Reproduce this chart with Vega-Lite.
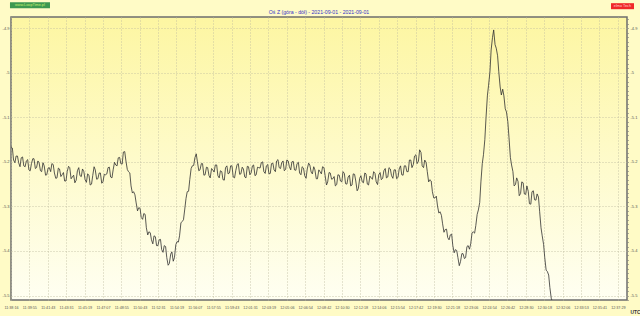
{
  "$schema": "https://vega.github.io/schema/vega-lite/v6.json",
  "width": 616,
  "height": 283,
  "autosize": "none",
  "padding": {"left": 11, "top": 17, "right": 13, "bottom": 16},
  "background": "#fffbc6",
  "title": {"text": "Oś Z (góra - dół) - 2021-09-01 - 2021-09-01", "color": "#3535c8", "fontSize": 5.2, "fontWeight": "normal", "font": "Liberation Sans", "offset": 3, "dy": 16, "anchor": "middle", "frame": "group"},
  "config": {
    "view": {"stroke": "#6e6e6e", "strokeWidth": 1.5, "fill": {"gradient": "linear", "x1": 0, "y1": 0, "x2": 0, "y2": 1, "stops": [{"offset": 0, "color": "#fdf6a2"}, {"offset": 1, "color": "#fffff2"}]}},
    "axis": {"labelFont": "Liberation Sans", "labelFontSize": 4, "labelColor": "#555555", "titleFont": "Liberation Sans"}
  },
  "data": {"values": [
    {"s":0,"v":-5.166},{"s":15,"v":-5.196},{"s":30,"v":-5.187},{"s":45,"v":-5.202},{"s":60,"v":-5.191},{"s":75,"v":-5.209},{"s":90,"v":-5.198},{"s":105,"v":-5.218},{"s":120,"v":-5.204},{"s":135,"v":-5.193},
    {"s":150,"v":-5.213},{"s":165,"v":-5.202},{"s":180,"v":-5.222},{"s":195,"v":-5.209},{"s":210,"v":-5.229},{"s":225,"v":-5.213},{"s":240,"v":-5.204},{"s":255,"v":-5.225},{"s":270,"v":-5.236},{"s":285,"v":-5.216},
    {"s":300,"v":-5.229},{"s":315,"v":-5.243},{"s":330,"v":-5.222},{"s":345,"v":-5.213},{"s":360,"v":-5.234},{"s":375,"v":-5.247},{"s":390,"v":-5.220},{"s":405,"v":-5.231},{"s":420,"v":-5.216},{"s":435,"v":-5.240},
    {"s":450,"v":-5.227},{"s":465,"v":-5.252},{"s":480,"v":-5.231},{"s":495,"v":-5.218},{"s":510,"v":-5.238},{"s":525,"v":-5.225},{"s":540,"v":-5.245},{"s":555,"v":-5.229},{"s":570,"v":-5.213},{"s":585,"v":-5.234},
    {"s":600,"v":-5.218},{"s":615,"v":-5.207},{"s":630,"v":-5.191},{"s":645,"v":-5.204},{"s":660,"v":-5.178},{"s":675,"v":-5.198},{"s":690,"v":-5.222},{"s":705,"v":-5.254},{"s":720,"v":-5.267},{"s":735,"v":-5.292},
    {"s":750,"v":-5.303},{"s":765,"v":-5.325},{"s":780,"v":-5.316},{"s":795,"v":-5.348},{"s":810,"v":-5.357},{"s":825,"v":-5.375},{"s":840,"v":-5.366},{"s":855,"v":-5.388},{"s":870,"v":-5.375},{"s":885,"v":-5.397},
    {"s":900,"v":-5.388},{"s":915,"v":-5.415},{"s":930,"v":-5.428},{"s":945,"v":-5.402},{"s":960,"v":-5.415},{"s":975,"v":-5.379},{"s":990,"v":-5.366},{"s":1005,"v":-5.334},{"s":1020,"v":-5.308},{"s":1035,"v":-5.267},
    {"s":1050,"v":-5.240},{"s":1065,"v":-5.209},{"s":1080,"v":-5.191},{"s":1095,"v":-5.200},{"s":1110,"v":-5.218},{"s":1125,"v":-5.204},{"s":1140,"v":-5.229},{"s":1155,"v":-5.213},{"s":1170,"v":-5.236},{"s":1185,"v":-5.218},
    {"s":1200,"v":-5.207},{"s":1215,"v":-5.231},{"s":1230,"v":-5.220},{"s":1245,"v":-5.240},{"s":1260,"v":-5.213},{"s":1275,"v":-5.227},{"s":1290,"v":-5.209},{"s":1305,"v":-5.234},{"s":1320,"v":-5.220},{"s":1335,"v":-5.204},
    {"s":1350,"v":-5.227},{"s":1365,"v":-5.216},{"s":1380,"v":-5.236},{"s":1395,"v":-5.211},{"s":1410,"v":-5.225},{"s":1425,"v":-5.207},{"s":1440,"v":-5.229},{"s":1455,"v":-5.213},{"s":1470,"v":-5.202},{"s":1485,"v":-5.222},
    {"s":1500,"v":-5.209},{"s":1515,"v":-5.227},{"s":1530,"v":-5.204},{"s":1545,"v":-5.218},{"s":1560,"v":-5.198},{"s":1575,"v":-5.213},{"s":1590,"v":-5.202},{"s":1605,"v":-5.220},{"s":1620,"v":-5.196},{"s":1635,"v":-5.211},
    {"s":1650,"v":-5.200},{"s":1665,"v":-5.218},{"s":1680,"v":-5.204},{"s":1695,"v":-5.225},{"s":1710,"v":-5.211},{"s":1725,"v":-5.231},{"s":1740,"v":-5.216},{"s":1755,"v":-5.207},{"s":1770,"v":-5.227},{"s":1785,"v":-5.218},
    {"s":1800,"v":-5.238},{"s":1815,"v":-5.222},{"s":1830,"v":-5.211},{"s":1845,"v":-5.231},{"s":1860,"v":-5.245},{"s":1875,"v":-5.225},{"s":1890,"v":-5.238},{"s":1905,"v":-5.254},{"s":1920,"v":-5.229},{"s":1935,"v":-5.243},
    {"s":1950,"v":-5.222},{"s":1965,"v":-5.249},{"s":1980,"v":-5.234},{"s":1995,"v":-5.254},{"s":2010,"v":-5.227},{"s":2025,"v":-5.243},{"s":2040,"v":-5.260},{"s":2055,"v":-5.231},{"s":2070,"v":-5.247},{"s":2085,"v":-5.227},
    {"s":2100,"v":-5.252},{"s":2115,"v":-5.236},{"s":2130,"v":-5.222},{"s":2145,"v":-5.245},{"s":2160,"v":-5.229},{"s":2175,"v":-5.240},{"s":2190,"v":-5.220},{"s":2205,"v":-5.236},{"s":2220,"v":-5.213},{"s":2235,"v":-5.231},
    {"s":2250,"v":-5.218},{"s":2265,"v":-5.238},{"s":2280,"v":-5.216},{"s":2295,"v":-5.229},{"s":2310,"v":-5.209},{"s":2325,"v":-5.222},{"s":2340,"v":-5.196},{"s":2355,"v":-5.213},{"s":2370,"v":-5.187},{"s":2385,"v":-5.204},
    {"s":2400,"v":-5.173},{"s":2415,"v":-5.209},{"s":2430,"v":-5.196},{"s":2445,"v":-5.222},{"s":2460,"v":-5.240},{"s":2475,"v":-5.267},{"s":2490,"v":-5.281},{"s":2505,"v":-5.299},{"s":2520,"v":-5.312},{"s":2535,"v":-5.339},
    {"s":2550,"v":-5.352},{"s":2565,"v":-5.370},{"s":2580,"v":-5.364},{"s":2595,"v":-5.388},{"s":2610,"v":-5.397},{"s":2625,"v":-5.415},{"s":2640,"v":-5.424},{"s":2655,"v":-5.406},{"s":2670,"v":-5.415},{"s":2685,"v":-5.388},
    {"s":2700,"v":-5.384},{"s":2715,"v":-5.357},{"s":2730,"v":-5.343},{"s":2745,"v":-5.308},{"s":2760,"v":-5.245},{"s":2775,"v":-5.184},{"s":2790,"v":-5.101},{"s":2805,"v":-5.028},{"s":2820,"v":-4.949},{"s":2835,"v":-4.904},
    {"s":2850,"v":-4.945},{"s":2865,"v":-4.998},{"s":2880,"v":-5.050},{"s":2895,"v":-5.052},{"s":2910,"v":-5.088},{"s":2925,"v":-5.146},{"s":2940,"v":-5.207},{"s":2955,"v":-5.254},{"s":2970,"v":-5.236},{"s":2985,"v":-5.276},
    {"s":3000,"v":-5.245},{"s":3015,"v":-5.272},{"s":3030,"v":-5.254},{"s":3045,"v":-5.294},{"s":3060,"v":-5.267},{"s":3075,"v":-5.285},{"s":3090,"v":-5.272},{"s":3105,"v":-5.312},{"s":3120,"v":-5.366},{"s":3135,"v":-5.415},
    {"s":3150,"v":-5.446},{"s":3165,"v":-5.482},{"s":3180,"v":-5.514},
    {"s":8,"v":-5.169},{"s":23,"v":-5.202},{"s":38,"v":-5.187},{"s":53,"v":-5.211},{"s":68,"v":-5.189},{"s":83,"v":-5.211},{"s":98,"v":-5.195},{"s":113,"v":-5.220},{"s":128,"v":-5.193},{"s":143,"v":-5.215},
    {"s":158,"v":-5.198},{"s":173,"v":-5.220},{"s":188,"v":-5.202},{"s":203,"v":-5.230},{"s":218,"v":-5.214},{"s":233,"v":-5.222},{"s":248,"v":-5.206},{"s":263,"v":-5.237},{"s":278,"v":-5.214},{"s":293,"v":-5.233},
    {"s":308,"v":-5.224},{"s":323,"v":-5.243},{"s":338,"v":-5.210},{"s":353,"v":-5.238},{"s":368,"v":-5.230},{"s":383,"v":-5.241},{"s":398,"v":-5.213},{"s":413,"v":-5.233},{"s":428,"v":-5.222},{"s":443,"v":-5.246},
    {"s":458,"v":-5.230},{"s":473,"v":-5.250},{"s":488,"v":-5.211},{"s":503,"v":-5.239},{"s":518,"v":-5.225},{"s":533,"v":-5.248},{"s":548,"v":-5.228},{"s":563,"v":-5.227},{"s":578,"v":-5.212},{"s":593,"v":-5.236},
    {"s":608,"v":-5.201},{"s":623,"v":-5.209},{"s":638,"v":-5.190},{"s":653,"v":-5.205},{"s":668,"v":-5.177},{"s":683,"v":-5.217},{"s":698,"v":-5.225},{"s":713,"v":-5.270},{"s":728,"v":-5.274},{"s":743,"v":-5.310},
    {"s":758,"v":-5.304},{"s":773,"v":-5.329},{"s":788,"v":-5.318},{"s":803,"v":-5.364},{"s":818,"v":-5.359},{"s":833,"v":-5.384},{"s":848,"v":-5.368},{"s":863,"v":-5.388},{"s":878,"v":-5.374},{"s":893,"v":-5.403},
    {"s":908,"v":-5.390},{"s":923,"v":-5.432},{"s":938,"v":-5.407},{"s":953,"v":-5.423},{"s":968,"v":-5.386},{"s":983,"v":-5.380},{"s":998,"v":-5.337},{"s":1013,"v":-5.330},{"s":1028,"v":-5.282},{"s":1043,"v":-5.266},
    {"s":1058,"v":-5.215},{"s":1073,"v":-5.208},{"s":1088,"v":-5.182},{"s":1103,"v":-5.220},{"s":1118,"v":-5.204},{"s":1133,"v":-5.230},{"s":1148,"v":-5.212},{"s":1163,"v":-5.231},{"s":1178,"v":-5.215},{"s":1193,"v":-5.223},
    {"s":1208,"v":-5.207},{"s":1223,"v":-5.236},{"s":1238,"v":-5.222},{"s":1253,"v":-5.241},{"s":1268,"v":-5.209},{"s":1283,"v":-5.225},{"s":1298,"v":-5.209},{"s":1313,"v":-5.236},{"s":1328,"v":-5.206},{"s":1343,"v":-5.228},
    {"s":1358,"v":-5.212},{"s":1373,"v":-5.234},{"s":1388,"v":-5.210},{"s":1403,"v":-5.229},{"s":1418,"v":-5.209},{"s":1433,"v":-5.231},{"s":1448,"v":-5.212},{"s":1463,"v":-5.214},{"s":1478,"v":-5.200},{"s":1493,"v":-5.226},
    {"s":1508,"v":-5.206},{"s":1523,"v":-5.226},{"s":1538,"v":-5.203},{"s":1553,"v":-5.222},{"s":1568,"v":-5.195},{"s":1583,"v":-5.215},{"s":1598,"v":-5.198},{"s":1613,"v":-5.217},{"s":1628,"v":-5.198},{"s":1643,"v":-5.218},
    {"s":1658,"v":-5.199},{"s":1673,"v":-5.219},{"s":1688,"v":-5.201},{"s":1703,"v":-5.229},{"s":1718,"v":-5.214},{"s":1733,"v":-5.237},{"s":1748,"v":-5.203},{"s":1763,"v":-5.223},{"s":1778,"v":-5.211},{"s":1793,"v":-5.238},
    {"s":1808,"v":-5.218},{"s":1823,"v":-5.227},{"s":1838,"v":-5.213},{"s":1853,"v":-5.252},{"s":1868,"v":-5.224},{"s":1883,"v":-5.239},{"s":1898,"v":-5.233},{"s":1913,"v":-5.251},{"s":1928,"v":-5.230},{"s":1943,"v":-5.245},
    {"s":1958,"v":-5.226},{"s":1973,"v":-5.250},{"s":1988,"v":-5.230},{"s":2003,"v":-5.252},{"s":2018,"v":-5.228},{"s":2033,"v":-5.265},{"s":2048,"v":-5.237},{"s":2063,"v":-5.245},{"s":2078,"v":-5.225},{"s":2093,"v":-5.250},
    {"s":2108,"v":-5.232},{"s":2123,"v":-5.239},{"s":2138,"v":-5.226},{"s":2153,"v":-5.251},{"s":2168,"v":-5.224},{"s":2183,"v":-5.237},{"s":2198,"v":-5.215},{"s":2213,"v":-5.234},{"s":2228,"v":-5.216},{"s":2243,"v":-5.237},
    {"s":2258,"v":-5.218},{"s":2273,"v":-5.235},{"s":2288,"v":-5.209},{"s":2303,"v":-5.230},{"s":2318,"v":-5.209},{"s":2333,"v":-5.222},{"s":2348,"v":-5.196},{"s":2363,"v":-5.206},{"s":2378,"v":-5.184},{"s":2393,"v":-5.199},
    {"s":2408,"v":-5.179},{"s":2423,"v":-5.213},{"s":2438,"v":-5.201},{"s":2453,"v":-5.245},{"s":2468,"v":-5.243},{"s":2483,"v":-5.281},{"s":2498,"v":-5.277},{"s":2513,"v":-5.315},{"s":2528,"v":-5.320},{"s":2543,"v":-5.358},
    {"s":2558,"v":-5.351},{"s":2573,"v":-5.375},{"s":2588,"v":-5.362},{"s":2603,"v":-5.404},{"s":2618,"v":-5.399},{"s":2633,"v":-5.433},{"s":2648,"v":-5.406},{"s":2663,"v":-5.417},{"s":2678,"v":-5.390},{"s":2693,"v":-5.396},
    {"s":2708,"v":-5.359},{"s":2723,"v":-5.360},{"s":2738,"v":-5.318},{"s":2753,"v":-5.291},{"s":2768,"v":-5.204},{"s":2783,"v":-5.150},{"s":2798,"v":-5.052},{"s":2813,"v":-4.998},{"s":2828,"v":-4.921},{"s":2843,"v":-4.937},
    {"s":2858,"v":-4.962},{"s":2873,"v":-5.032},{"s":2888,"v":-5.037},{"s":2903,"v":-5.081},{"s":2918,"v":-5.110},{"s":2933,"v":-5.190},{"s":2948,"v":-5.222},{"s":2963,"v":-5.251},{"s":2978,"v":-5.244},{"s":2993,"v":-5.271},
    {"s":3008,"v":-5.247},{"s":3023,"v":-5.273},{"s":3038,"v":-5.266},{"s":3053,"v":-5.295},{"s":3068,"v":-5.265},{"s":3083,"v":-5.286},{"s":3098,"v":-5.279},{"s":3113,"v":-5.348},{"s":3128,"v":-5.385},{"s":3143,"v":-5.443},
    {"s":3158,"v":-5.454},{"s":3173,"v":-5.506}
  ]},
  "resolve": {"axis": {"y": "independent", "x": "independent"}},
  "layer": [
    {
      "mark": {"type": "line", "stroke": "#303030", "strokeWidth": 0.8, "clip": true},
      "encoding": {
        "x": {"field": "s", "type": "quantitative", "scale": {"domain": [0, 3618], "nice": false, "zero": false},
          "axis": {"values": [0,108,216,324,432,540,648,756,864,972,1080,1188,1296,1404,1512,1620,1728,1836,1944,2052,2160,2268,2376,2484,2592,2700,2808,2916,3024,3132,3240,3348,3456,3564],
            "labelExpr": "['11:38:16','11:39:55','11:41:43','11:43:31','11:45:19','11:47:07','11:48:55','11:50:43','11:52:31','11:54:19','11:56:07','11:57:55','11:59:43','12:01:31','12:03:19','12:05:06','12:06:54','12:08:42','12:10:30','12:12:18','12:14:06','12:15:54','12:17:42','12:19:30','12:21:18','12:23:06','12:24:54','12:26:42','12:28:30','12:30:18','12:32:06','12:33:53','12:35:41','12:37:29'][round(datum.value/108)]",
            "labelFontSize": 3.7, "tickSize": 0, "labelPadding": 5, "domain": false, "grid": true, "gridDash": [1, 2], "gridColor": "#bdbaa0", "gridWidth": 0.8,
            "labelOverlap": false, "labelFlush": false,
            "title": "UTC", "titleX": 619, "titleY": 9, "titleAlign": "left", "titleBaseline": "top", "titleFontSize": 4.8, "titleFontWeight": "bold", "titleColor": "#333333"}},
        "y": {"field": "v", "type": "quantitative", "scale": {"domain": [-5.51, -4.875], "nice": false, "zero": false},
          "axis": {"orient": "left", "values": [-4.9, -5, -5.1, -5.2, -5.3, -5.4, -5.5], "labelExpr": "'' + round(datum.value*10)/10",
            "tickSize": 0, "labelPadding": 2, "domain": false, "grid": true, "gridDash": [1, 2], "gridColor": "#bdbaa0", "gridWidth": 0.8, "title": null}}
      }
    },
    {
      "data": {"values": [{"label": "www.LoopTime.pl"}]},
      "mark": {"type": "rect", "fill": "#3d9850"},
      "encoding": {
        "x": {"datum": -6, "type": "quantitative", "scale": {"domain": [0, 3618], "nice": false, "zero": false}, "axis": null},
        "x2": {"datum": 229},
        "y": {"datum": -4.8418, "type": "quantitative", "scale": {"domain": [-5.51, -4.875], "nice": false, "zero": false},
          "axis": {"orient": "right", "values": [-4.88,-4.89,-4.9,-4.91,-4.92,-4.93,-4.94,-4.95,-4.96,-4.97,-4.98,-4.99,-5,-5.01,-5.02,-5.03,-5.04,-5.05,-5.06,-5.07,-5.08,-5.09,-5.1,-5.11,-5.12,-5.13,-5.14,-5.15,-5.16,-5.17,-5.18,-5.19,-5.2,-5.21,-5.22,-5.23,-5.24,-5.25,-5.26,-5.27,-5.28,-5.29,-5.3,-5.31,-5.32,-5.33,-5.34,-5.35,-5.36,-5.37,-5.38,-5.39,-5.4,-5.41,-5.42,-5.43,-5.44,-5.45,-5.46,-5.47,-5.48,-5.49,-5.5,-5.51],
            "labelExpr": "abs(datum.value*10 - round(datum.value*10)) < 0.01 ? '' + round(datum.value*10)/10 : ''",
            "tickSize": 1.5, "tickColor": "#777777", "tickWidth": 0.6, "labelPadding": 1.5, "domain": false, "grid": false, "title": null, "labelOverlap": false, "labelFlush": false}},
        "y2": {"datum": -4.8552}
      }
    },
    {
      "data": {"values": [{"label": "www.LoopTime.pl"}]},
      "mark": {"type": "text", "fontSize": 3.8, "font": "Liberation Sans", "color": "#c8f070", "align": "center", "baseline": "middle"},
      "encoding": {
        "x": {"datum": 111, "type": "quantitative", "scale": {"domain": [0, 3618], "nice": false, "zero": false}, "axis": null},
        "y": {"datum": -4.8485, "type": "quantitative", "scale": {"domain": [-5.51, -4.875], "nice": false, "zero": false}, "axis": null},
        "text": {"field": "label"}
      }
    },
    {
      "data": {"values": [{"label": "elmo Tech"}]},
      "mark": {"type": "rect", "fill": "#f02828"},
      "encoding": {
        "x": {"datum": 3524, "type": "quantitative", "scale": {"domain": [0, 3618], "nice": false, "zero": false}, "axis": null},
        "x2": {"datum": 3659},
        "y": {"datum": -4.844, "type": "quantitative", "scale": {"domain": [-5.51, -4.875], "nice": false, "zero": false}, "axis": null},
        "y2": {"datum": -4.8575}
      }
    },
    {
      "data": {"values": [{"label": "elmo Tech"}]},
      "mark": {"type": "text", "fontSize": 3.8, "font": "Liberation Sans", "color": "#ffd0d0", "align": "center", "baseline": "middle"},
      "encoding": {
        "x": {"datum": 3591, "type": "quantitative", "scale": {"domain": [0, 3618], "nice": false, "zero": false}, "axis": null},
        "y": {"datum": -4.8508, "type": "quantitative", "scale": {"domain": [-5.51, -4.875], "nice": false, "zero": false}, "axis": null},
        "text": {"field": "label"}
      }
    }
  ]
}
